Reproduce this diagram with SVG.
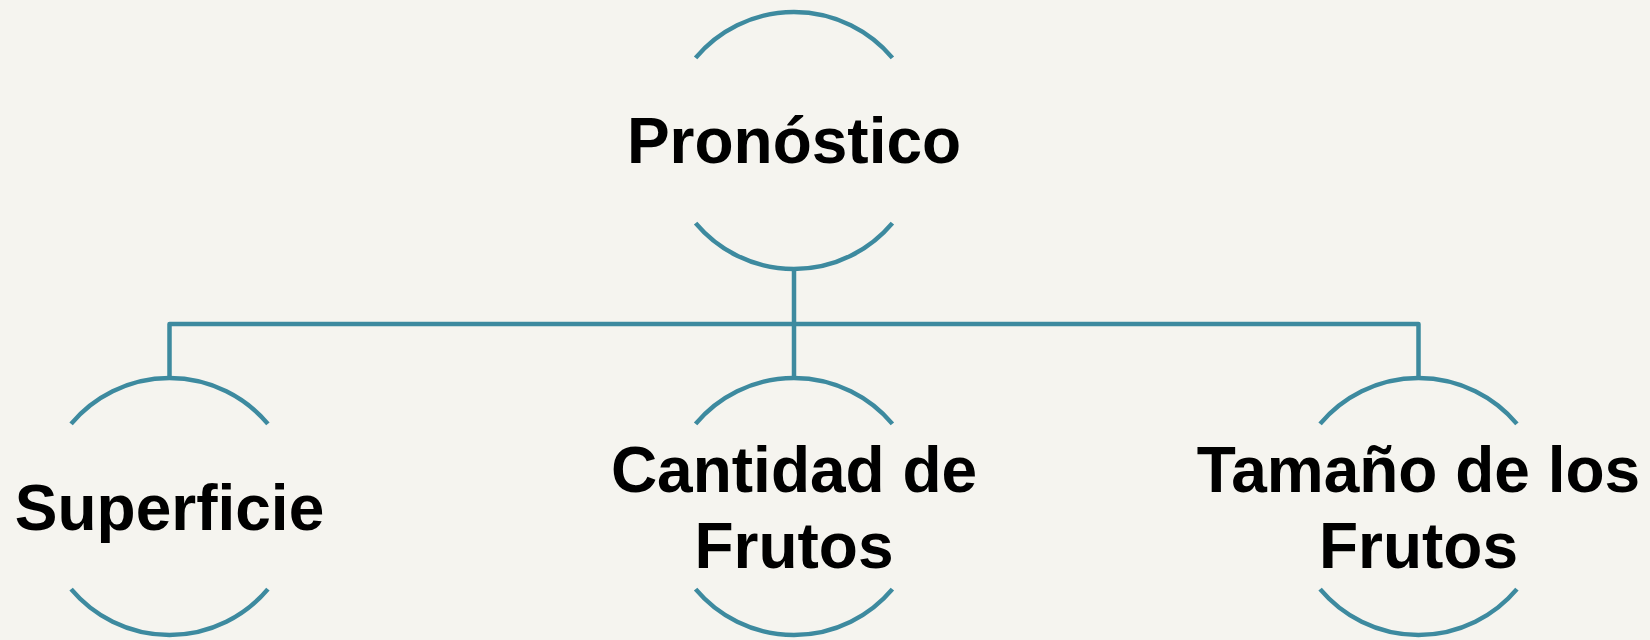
<svg xmlns="http://www.w3.org/2000/svg" width="1650" height="640" viewBox="0 0 1650 640">
<style>
.arc{fill:none;stroke:#3d8a9f;stroke-width:4.5}
.conn{fill:none;stroke:#3d8a9f;stroke-width:4.5;stroke-linejoin:round}
.lbl{font-family:"Liberation Sans",Arial,sans-serif;font-weight:bold;font-size:64px;fill:#000;text-anchor:middle}
</style>
<rect width="1650" height="640" fill="#f5f4ef"/>
<g id="connectors">
<path class="conn" d="M794 269 V324"/>
<path class="conn" d="M169.5 377.7 V324 H1418.5 V377.7"/>
<path class="conn" d="M794 324 V377.7"/>
</g>
<g id="node-pronostico">
<path class="arc" d="M695.6 57.9 A128.5 128.5 0 0 1 892.4 57.9"/>
<path class="arc" d="M695.6 223.1 A128.5 128.5 0 0 0 892.4 223.1"/>
<text class="lbl" x="794" y="163">Pronóstico</text>
</g>
<g id="node-superficie">
<path class="arc" d="M71.1 423.9 A128.5 128.5 0 0 1 267.9 423.9"/>
<path class="arc" d="M71.1 589.1 A128.5 128.5 0 0 0 267.9 589.1"/>
<text class="lbl" x="169.5" y="530">Superficie</text>
</g>
<g id="node-cantidad">
<path class="arc" d="M695.6 423.9 A128.5 128.5 0 0 1 892.4 423.9"/>
<path class="arc" d="M695.6 589.1 A128.5 128.5 0 0 0 892.4 589.1"/>
<text class="lbl" x="794" y="491.7">Cantidad de</text>
<text class="lbl" x="794" y="568.3">Frutos</text>
</g>
<g id="node-tamano">
<path class="arc" d="M1320.1 423.9 A128.5 128.5 0 0 1 1516.9 423.9"/>
<path class="arc" d="M1320.1 589.1 A128.5 128.5 0 0 0 1516.9 589.1"/>
<text class="lbl" x="1418.5" y="491.7">Tamaño de los</text>
<text class="lbl" x="1418.5" y="568.3">Frutos</text>
</g>
</svg>
